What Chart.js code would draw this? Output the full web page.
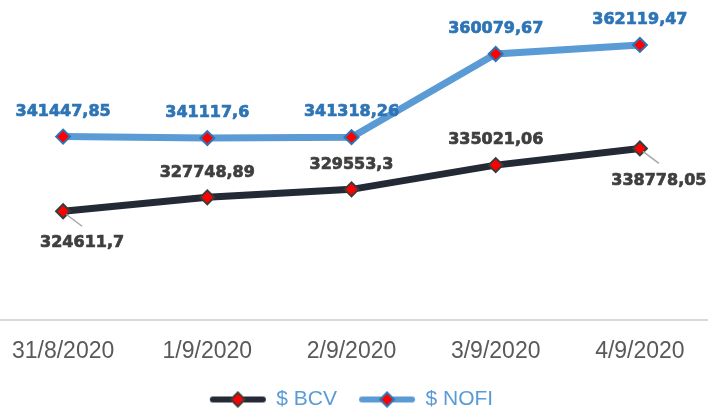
<!DOCTYPE html>
<html>
<head>
<meta charset="utf-8">
<script src="https://cdn.jsdelivr.net/npm/chart.js@4.4.0/dist/chart.umd.min.js"></script>
<style>
  html, body { margin: 0; padding: 0; background: #fff; overflow: hidden; }
  /* the original plot runs a little past both edges */
  #wrap { width: 721px; height: 408px; margin-left: -9px; }
</style>
</head>
<body>
<div id="wrap"><canvas id="lineChart"></canvas></div>
<script>
const dates = ['31/8/2020', '1/9/2020', '2/9/2020', '3/9/2020', '4/9/2020'];
const bcvValues = [324611.7, 327748.89, 329553.3, 335021.06, 338778.05];
const nofiValues = [341447.85, 341117.6, 341318.26, 360079.67, 362119.47];
const bcvText = ['324611,7', '327748,89', '329553,3', '335021,06', '338778,05'];
const nofiText = ['341447,85', '341117,6', '341318,26', '360079,67', '362119,47'];

const BCV_COLOR = '#232a35';
const NOFI_COLOR = '#5b9bd5';

// little legend swatch: line with a red diamond in the middle
const makeSwatch = (color, border) => {
    const c = document.createElement('canvas');
    c.width = 58; c.height = 18;
    const g = c.getContext('2d');
    g.strokeStyle = color;
    g.lineWidth = 6;
    g.lineCap = 'round';
    g.beginPath(); g.moveTo(4, 9); g.lineTo(54, 9); g.stroke();
    g.fillStyle = '#ff0000';
    g.strokeStyle = border;
    g.lineWidth = 2;
    g.beginPath();
    g.moveTo(29, 2); g.lineTo(36, 9); g.lineTo(29, 16); g.lineTo(22, 9); g.closePath();
    g.fill(); g.stroke();
    return c;
};

// data labels drawn next to the points
const valueLabels = {
    id: 'valueLabels',
    afterDatasetsDraw(chart) {
        const ctx = chart.ctx;
        ctx.save();
        ctx.font = 'bold 16px "DejaVu Sans"';
        ctx.textAlign = 'center';
        ctx.textBaseline = 'middle';
        chart.data.datasets.forEach((ds, di) => {
            const meta = chart.getDatasetMeta(di);
            meta.data.forEach((pt, i) => {
                const txt = ds.labelText[i];
                const below = ds.labelBelow.includes(i);
                let x = pt.x, y = pt.y - 25;
                if (below) {
                    ctx.strokeStyle = '#a6a6a6';
                    ctx.lineWidth = 1.5;
                    ctx.beginPath();
                    ctx.moveTo(pt.x + 3, pt.y + 3);
                    ctx.lineTo(pt.x + 19, pt.y + 15);
                    ctx.stroke();
                    x = pt.x + 19;
                    y = pt.y + 32;
                }
                // a thin stroke makes the text look as heavy as the original
                ctx.fillStyle = ds.labelColor;
                ctx.strokeStyle = ds.labelColor;
                ctx.lineWidth = 0.7;
                ctx.fillText(txt, x, y);
                ctx.strokeText(txt, x, y);
            });
        });
        ctx.restore();
    }
};

const ctx = document.getElementById('lineChart').getContext('2d');
new Chart(ctx, {
    type: 'line',
    data: {
        labels: dates,
        datasets: [
            {
                label: '$ BCV',
                data: bcvValues,
                borderColor: BCV_COLOR,
                borderWidth: 7,
                tension: 0,
                pointStyle: 'rectRot',
                pointRadius: 7,
                pointBackgroundColor: '#ff0000',
                pointBorderColor: '#3b3b3b',
                pointBorderWidth: 2,
                labelText: bcvText,
                labelColor: '#3f3f3f',
                labelBelow: [0, 4],
                swatch: makeSwatch(BCV_COLOR, '#3b3b3b')
            },
            {
                label: '$ NOFI',
                data: nofiValues,
                borderColor: NOFI_COLOR,
                borderWidth: 7,
                tension: 0,
                pointStyle: 'rectRot',
                pointRadius: 7,
                pointBackgroundColor: '#ff0000',
                pointBorderColor: '#2e75b6',
                pointBorderWidth: 2,
                labelText: nofiText,
                labelColor: '#2e75b6',
                labelBelow: [],
                swatch: makeSwatch(NOFI_COLOR, '#2e75b6')
            }
        ]
    },
    options: {
        responsive: true,
        maintainAspectRatio: false,
        animation: false,
        layout: { autoPadding: false, padding: { top: 10, left: 0, right: 0, bottom: -12 } },
        scales: {
            x: {
                offset: true,
                grid: { display: false },
                border: { color: '#d9d9d9', width: 2 },
                ticks: { color: '#595959', font: { family: 'Liberation Sans', size: 23 }, padding: 9, maxRotation: 0, autoSkip: false },
                afterFit(scale) {
                    scale.paddingLeft = 0;
                    scale.paddingRight = 0;
                    scale.height -= 7;
                }
            },
            y: { display: false, min: 300000, max: 370000 }
        },
        plugins: {
            tooltip: { enabled: false },
            legend: {
                position: 'bottom',
                labels: {
                    usePointStyle: true,
                    pointStyleWidth: 56,
                    padding: 22,
                    color: NOFI_COLOR,
                    font: { family: 'Liberation Sans', size: 21 },
                    generateLabels(chart) {
                        return chart.data.datasets.map((ds, i) => ({
                            text: ds.label,
                            pointStyle: ds.swatch,
                            fontColor: NOFI_COLOR,
                            hidden: false,
                            datasetIndex: i,
                            lineWidth: 0
                        }));
                    }
                }
            }
        }
    },
    plugins: [valueLabels]
});
</script>
</body>
</html>
